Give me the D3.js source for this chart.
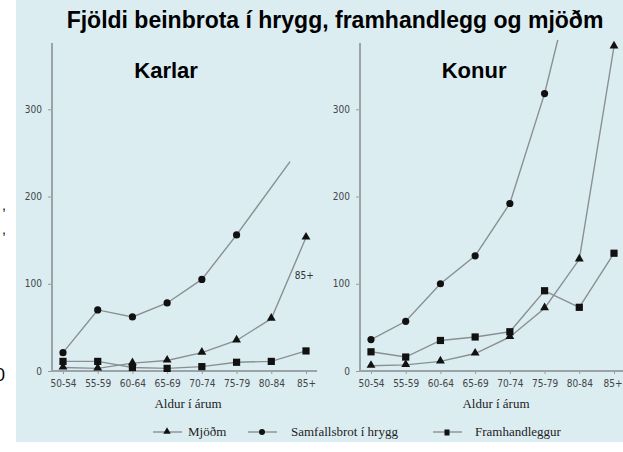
<!DOCTYPE html>
<meta charset="utf-8">
<title>Fjöldi beinbrota</title>
<style>
  html, body { margin: 0; padding: 0; background: #fff; }
  svg { display: block; }
  .tick text { font-family: "DejaVu Sans Condensed", "DejaVu Sans", sans-serif; font-stretch: condensed; font-size: 10px; fill: #444; }
  .tick line { stroke: #999; }
  .serif { font-family: "Liberation Serif", "Times New Roman", Times, serif; font-size: 13px; fill: #222; }
</style>
<body>
<script src="https://d3js.org/d3.v7.min.js"></script>
<script>

// categories
var ageGroups = ["50-54", "55-59", "60-64", "65-69", "70-74", "75-79", "80-84", "85+"];
var yTicks = [0, 100, 200, 300];

// Karlar (men)
var karlarMjodm = [4, 3, 9, 12, 21, 35, 60, 153];
var karlarSamfalls = [21, 70, 62, 78, 105, 156];
var karlarSamfallsEnd = {i: 6.54, v: 240};  // line runs on past the last marker
var karlarFramh = [11, 11, 4, 3, 5, 10, 11, 23];

// Konur (women)
var konurMjodm = [6, 7, 11, 20, 39, 72, 128, 372];
var konurSamfalls = [36, 57, 100, 132, 192, 318, 480];
var konurFramh = [22, 16, 35, 39, 45, 92, 73, 135];

var W = 623, H = 452;

var svg = d3.select("body").append("svg")
    .attr("width", W)
    .attr("height", H);

// light blue panel
svg.append("rect")
    .attr("x", 16).attr("y", 0)
    .attr("width", W - 16).attr("height", 442)
    .attr("fill", "#dcedf2");

// cut-off text on the left edge
svg.append("text").attr("x", 2).attr("y", 210).text(",")
    .style("font", "14px 'Liberation Sans', sans-serif");
svg.append("text").attr("x", 2).attr("y", 234).text(",")
    .style("font", "14px 'Liberation Sans', sans-serif");
svg.append("text").attr("x", -5).attr("y", 381).text("0")
    .style("font", "18px 'Liberation Sans', sans-serif");

// title
svg.append("text")
    .attr("x", 335).attr("y", 28)
    .attr("text-anchor", "middle")
    .style("font", "bold 23px 'Liberation Sans', Arial, sans-serif")
    .text("Fjöldi beinbrota í hrygg, framhandlegg og mjöðm");

var y = d3.scaleLinear().domain([0, 376]).range([371, 43]);

svg.append("defs").append("clipPath").attr("id", "clip")
  .append("rect").attr("x", 0).attr("y", 40).attr("width", W).attr("height", 340);

// triangle / circle / square markers
function marker(g, type, cx, cy) {
  if (type == "tri") {
    g.append("path")
      .attr("d", d3.symbol().type(d3.symbolTriangle).size(34)())
      .attr("transform", "translate(" + cx + "," + (cy - 0.5) + ")")
      .attr("fill", "#111");
  } else if (type == "circ") {
    g.append("circle").attr("cx", cx).attr("cy", cy).attr("r", 3.6).attr("fill", "#111");
  } else {
    g.append("rect").attr("x", cx - 3.6).attr("y", cy - 3.6)
      .attr("width", 7.2).attr("height", 7.2).attr("fill", "#111");
  }
}

function panel(name, axisX, x0, x1, series, extra) {
  var x = d3.scaleLinear().domain([0, 7]).range([x0, x1]);
  var g = svg.append("g");

  // y axis
  var ya = g.append("g")
      .attr("transform", "translate(" + axisX + ",0)")
      .call(d3.axisLeft(y).tickValues(yTicks).tickSize(4).tickPadding(6));
  ya.select(".domain").remove();
  g.append("line")
      .attr("x1", axisX).attr("x2", axisX)
      .attr("y1", 43).attr("y2", y(0))
      .attr("stroke", "#9aa3a8").attr("stroke-width", 2);

  // x axis
  var xa = g.append("g")
      .attr("transform", "translate(0," + y(0) + ")")
      .call(d3.axisBottom(x).tickValues(d3.range(8)).tickFormat(function(i) { return ageGroups[i]; })
        .tickSize(3).tickPadding(6));
  xa.select(".domain").remove();
  g.append("line")
      .attr("x1", axisX).attr("x2", Math.min(W, x(7.32)))
      .attr("y1", y(0)).attr("y2", y(0))
      .attr("stroke", "#9aa3a8").attr("stroke-width", 2);

  g.append("text")
      .attr("x", x(2.97)).attr("y", 78)
      .attr("text-anchor", "middle")
      .style("font", "bold 22px 'Liberation Sans', Arial, sans-serif")
      .text(name);

  g.append("text")
      .attr("class", "serif")
      .attr("x", x(3.6)).attr("y", 408)
      .attr("text-anchor", "middle")
      .text("Aldur í árum");

  var line = d3.line()
      .x(function(d) { return x(d.i); })
      .y(function(d) { return y(d.v); });

  var plot = g.append("g").attr("clip-path", "url(#clip)");
  series.forEach(function(s) {
    var pts = s.values.map(function(v, i) { return {i: i, v: v}; });
    var linePts = s.end ? pts.concat([s.end]) : pts;
    plot.append("path")
        .attr("d", line(linePts))
        .attr("fill", "none")
        .attr("stroke", "#8a8f92")
        .attr("stroke-width", 1.4);
    pts.forEach(function(p) { marker(plot, s.type, x(p.i), y(p.v)); });
  });
  if (extra) extra(g, x);
  return xa;
}

panel("Karlar", 52, 63, 306, [
  {type: "circ", values: karlarSamfalls, end: karlarSamfallsEnd},
  {type: "tri", values: karlarMjodm},
  {type: "sq", values: karlarFramh}
], function(g, x) {
  g.append("text")
      .attr("x", x(6.95)).attr("y", 279)
      .attr("text-anchor", "middle")
      .style("font-family", "'DejaVu Sans Condensed', 'DejaVu Sans', sans-serif")
      .style("font-stretch", "condensed")
      .style("font-size", "10px")
      .attr("fill", "#333")
      .text("85+");
});

var xaR = panel("Konur", 360, 371, 614, [
  {type: "circ", values: konurSamfalls},
  {type: "tri", values: konurMjodm},
  {type: "sq", values: konurFramh}
]);
// last label sits against the right edge
xaR.selectAll(".tick text").filter(function(i) { return i == 7; })
    .attr("text-anchor", "end").attr("dx", 8);

// legend
var legend = [
  {type: "tri", label: "Mjöðm", x: 153, tx: 188},
  {type: "circ", label: "Samfallsbrot í hrygg", x: 248, tx: 291},
  {type: "sq", label: "Framhandleggur", x: 433, tx: 475}
];
var lg = svg.append("g");
legend.forEach(function(d) {
  lg.append("line")
      .attr("x1", d.x).attr("x2", d.x + 29)
      .attr("y1", 432).attr("y2", 432)
      .attr("stroke", "#8a8f92").attr("stroke-width", 1.4);
  if (d.type == "tri") {
    lg.append("path")
      .attr("d", d3.symbol().type(d3.symbolTriangle).size(24)())
      .attr("transform", "translate(" + (d.x + 14) + ",431.5)")
      .attr("fill", "#111");
  } else if (d.type == "circ") {
    lg.append("circle").attr("cx", d.x + 14).attr("cy", 432).attr("r", 3).attr("fill", "#111");
  } else {
    lg.append("rect").attr("x", d.x + 11.5).attr("y", 429.5).attr("width", 5).attr("height", 6).attr("fill", "#111");
  }
  lg.append("text")
      .attr("class", "serif")
      .attr("x", d.tx).attr("y", 436)
      .text(d.label);
});

</script>
</body>
